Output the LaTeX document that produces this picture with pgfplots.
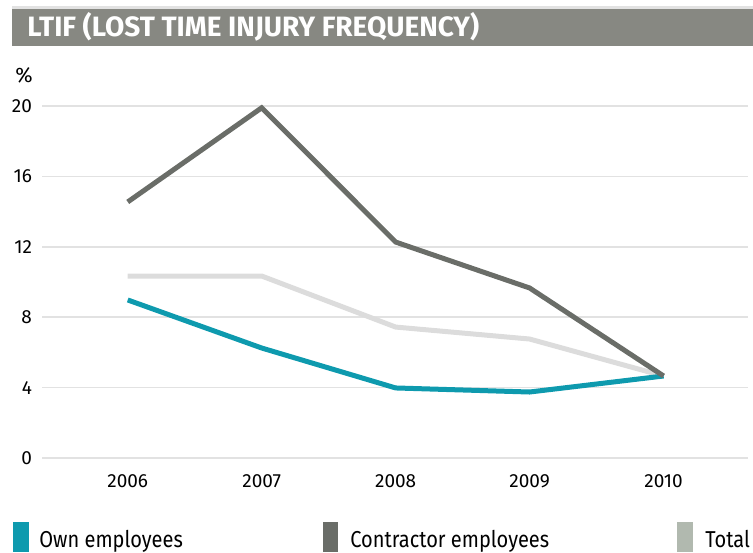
\documentclass[border=0pt]{standalone}
\usepackage{pgfplots}
\pgfplotsset{compat=1.18}
\usepackage{fontspec}
\setmainfont{Fira Sans}
\newfontfamily\legfont{Fira Sans}[FakeStretch=0.87]
\definecolor{own}{HTML}{0E9AAE}
\definecolor{contr}{HTML}{6A6D68}
\definecolor{total}{HTML}{DCDCDC}
\definecolor{totalsw}{HTML}{B1B9AF}
\definecolor{bar}{HTML}{878882}
\definecolor{gridc}{HTML}{E2E2E2}
\begin{document}
\begin{tikzpicture}
\begin{scope}[x=0.5pt,y=-0.5pt]
\path[use as bounding box] (0,0) rectangle (753,552);
\fill[gridc] (12,6) rectangle (753,9);
\fill[bar] (12,9) rectangle (753,46);
\node[anchor=base west,text=white,inner sep=0pt] at (27,36) {\bfseries\fontsize{14pt}{15pt}\selectfont LTIF (LOST TIME INJURY FREQUENCY)};
\node[anchor=base west,inner sep=0pt] at (15,82) {\fontsize{10.5pt}{11pt}\selectfont\%};
\fill[own] (13,522) rectangle (29,552);
\node[anchor=base west,inner sep=0pt] at (39,547) {\legfont\fontsize{11.5pt}{12pt}\selectfont Own employees};
\fill[contr] (323,522) rectangle (338,552);
\node[anchor=base west,inner sep=0pt] at (350,547) {\legfont\fontsize{11.5pt}{12pt}\selectfont Contractor employees};
\fill[totalsw] (677,522) rectangle (693,552);
\node[anchor=base west,inner sep=0pt] at (705,547) {\legfont\fontsize{11.5pt}{12pt}\selectfont Total};
\end{scope}
\begin{axis}[at={(21pt,-229pt)}, anchor=south west,
  scale only axis, width=353pt, height=176pt,
  xmin=2005.36, xmax=2010.63, ymin=0, ymax=20,
  axis line style={draw=none}, major tick length=0pt,
  xtick={2006,2007,2008,2009,2010},
  xticklabels={2006,2007,2008,2009,2010},
  ytick={0,4,8,12,16,20},
  yticklabels={0,4,8,12,16,20},
  ymajorgrids, grid style={color=gridc, line width=0.75pt},
  tick label style={font=\fontsize{9.5pt}{10pt}\selectfont},
  xticklabel style={yshift=-5pt},
  yticklabel style={xshift=-1.5pt},
  clip=false]
\addplot[total, line width=2.5pt] coordinates {(2006,10.34) (2007,10.34) (2008,7.44) (2009,6.76) (2010,4.66)};
\addplot[own, line width=2.5pt] coordinates {(2006,8.98) (2007,6.25) (2008,3.98) (2009,3.75) (2010,4.66)};
\addplot[contr, line width=2.5pt] coordinates {(2006,14.55) (2007,19.9) (2008,12.27) (2009,9.66) (2010,4.66)};
\end{axis}
\end{tikzpicture}
\end{document}
